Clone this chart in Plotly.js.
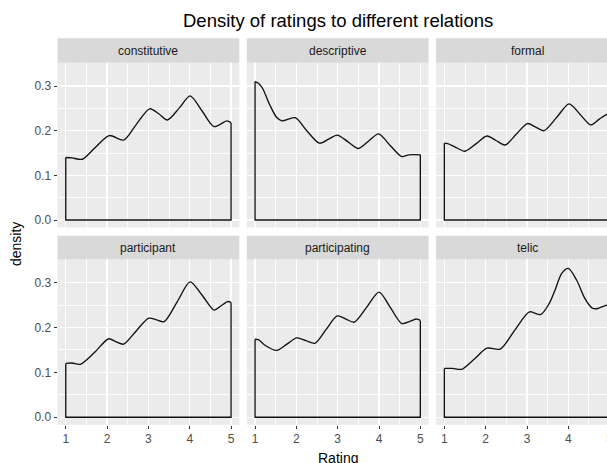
<!DOCTYPE html>
<html>
<head>
<meta charset="utf-8">
<script src="https://cdn.plot.ly/plotly-3.0.1.min.js"></script>
<style>
html,body{margin:0;padding:0;overflow:hidden;background:#fff;}
#chart{width:625px;height:463px;}
</style>
</head>
<body>
<div id="chart"></div>
<script>
// ---- data ----
var relations = ["constitutive","descriptive","formal","participant","participating","telic"];

var constitutiveX = [1, 1.15, 1.4, 1.7, 2.05, 2.4, 2.7, 3.03, 3.25, 3.46, 3.75, 4.01, 4.3, 4.59, 4.9, 5];
var constitutiveY = [0.140, 0.139, 0.136, 0.161, 0.189, 0.179, 0.213, 0.249, 0.238, 0.224, 0.251, 0.278, 0.244, 0.209, 0.222, 0.218];

var descriptiveX = [1, 1.08, 1.18, 1.36, 1.52, 1.65, 1.97, 2.25, 2.56, 2.78, 2.99, 3.25, 3.50, 3.75, 3.99, 4.27, 4.55, 4.72, 5];
var descriptiveY = [0.310, 0.306, 0.295, 0.257, 0.230, 0.222, 0.229, 0.200, 0.172, 0.181, 0.190, 0.175, 0.160, 0.177, 0.193, 0.167, 0.142, 0.146, 0.146];

var formalX = [1, 1.08, 1.25, 1.50, 1.77, 2.03, 2.25, 2.47, 2.74, 3.01, 3.21, 3.41, 3.72, 4.02, 4.28, 4.54, 4.75, 4.94, 5];
var formalY = [0.172, 0.171, 0.164, 0.154, 0.171, 0.188, 0.178, 0.168, 0.192, 0.216, 0.208, 0.200, 0.230, 0.260, 0.237, 0.213, 0.226, 0.237, 0.238];

var participantX = [1, 1.15, 1.35, 1.7, 2.04, 2.22, 2.40, 2.7, 3.01, 3.2, 3.38, 3.7, 4.01, 4.3, 4.59, 4.75, 4.92, 5];
var participantY = [0.120, 0.121, 0.118, 0.145, 0.175, 0.168, 0.163, 0.192, 0.221, 0.217, 0.213, 0.258, 0.302, 0.272, 0.239, 0.248, 0.258, 0.256];

var participatingX = [1, 1.08, 1.25, 1.52, 1.77, 2.01, 2.23, 2.45, 2.72, 2.99, 3.2, 3.40, 3.7, 4.00, 4.28, 4.55, 4.75, 4.91, 5];
var participatingY = [0.174, 0.173, 0.160, 0.149, 0.163, 0.177, 0.171, 0.165, 0.196, 0.226, 0.219, 0.212, 0.245, 0.279, 0.244, 0.209, 0.214, 0.219, 0.216];

var telicX = [1, 1.2, 1.42, 1.74, 2.03, 2.35, 2.71, 3.06, 3.33, 3.54, 3.68, 3.84, 4.0, 4.2, 4.4, 4.57, 4.69, 4.93, 5];
var telicY = [0.109, 0.109, 0.107, 0.131, 0.154, 0.152, 0.195, 0.235, 0.229, 0.254, 0.284, 0.321, 0.332, 0.306, 0.265, 0.244, 0.242, 0.250, 0.250];

var xTickVals = [1, 2, 3, 4, 5];
var xTickText = ["1", "2", "3", "4", "5"];
var yTickVals = [0.0, 0.1, 0.2, 0.3];
var yTickText = ["0.0", "0.1", "0.2", "0.3"];

var seriesX = [constitutiveX, descriptiveX, formalX, participantX, participatingX, telicX];
var seriesY = [constitutiveY, descriptiveY, formalY, participantY, participatingY, telicY];

// ---- layout geometry (pixels in a 625 x 463 figure) ----
var W = 625, H = 463;
var colPx = [[57.5, 239.3], [246.8, 428.6], [436.1, 617.9]];
var rowPx = [[62.8, 227.5], [259.4, 424.8]];
var stripPx = [[38.3, 62.8], [235.7, 259.4]];
function fx(p){ return p / W; }
function fy(p){ return 1 - p / H; }

var FONT = "Liberation Sans, Arial, Helvetica, sans-serif";
var traces = [];
var layout = {
  width: W, height: H,
  margin: {l: 0, r: 0, t: 0, b: 0},
  paper_bgcolor: "#FFFFFF",
  plot_bgcolor: "#EBEBEB",
  showlegend: false,
  font: {family: FONT, color: "#4D4D4D"},
  shapes: [],
  annotations: []
};

for (var i = 0; i < 6; i++) {
  var r = Math.floor(i / 3), c = i % 3;
  var sfx = i === 0 ? "" : String(i + 1);
  var xs = seriesX[i], ys = seriesY[i];
  // density curve
  traces.push({
    x: xs, y: ys, type: "scatter", mode: "lines",
    line: {color: "#111111", width: 1.35, shape: "spline", smoothing: 0.8},
    xaxis: "x" + sfx, yaxis: "y" + sfx, hoverinfo: "skip"
  });
  // outline of the density polygon (vertical sides and baseline)
  traces.push({
    x: [xs[0], xs[0], xs[xs.length - 1], xs[xs.length - 1]],
    y: [ys[0], 0, 0, ys[ys.length - 1]],
    type: "scatter", mode: "lines",
    line: {color: "#111111", width: 1.35},
    xaxis: "x" + sfx, yaxis: "y" + sfx, hoverinfo: "skip"
  });

  var showX = (r === 1);
  var showY = (c === 0);
  layout["xaxis" + sfx] = {
    domain: [fx(colPx[c][0]), fx(colPx[c][1])],
    anchor: "y" + sfx,
    range: [0.8, 5.2],
    tickvals: xTickVals, ticktext: xTickText,
    showticklabels: showX,
    ticks: showX ? "outside" : "", ticklen: 3, tickwidth: 1, tickcolor: "#333333",
    tickfont: {size: 12, color: "#4D4D4D", family: FONT},
    showgrid: true, gridcolor: "#FFFFFF", gridwidth: 1.3,
    minor: {tickvals: [1.5, 2.5, 3.5, 4.5], showgrid: true, gridcolor: "#FFFFFF", gridwidth: 0.9, ticks: ""},
    zeroline: false, showline: false, fixedrange: true
  };
  layout["yaxis" + sfx] = {
    domain: [fy(rowPx[r][1]), fy(rowPx[r][0])],
    anchor: "x" + sfx,
    range: [-0.0168, 0.352],
    tickvals: yTickVals, ticktext: yTickText,
    showticklabels: showY,
    ticks: showY ? "outside" : "", ticklen: 3, tickwidth: 1, tickcolor: "#333333",
    tickfont: {size: 12, color: "#4D4D4D", family: FONT},
    showgrid: true, gridcolor: "#FFFFFF", gridwidth: 1.3,
    minor: {tickvals: [0.05, 0.15, 0.25, 0.35], showgrid: true, gridcolor: "#FFFFFF", gridwidth: 0.9, ticks: ""},
    zeroline: false, showline: false, fixedrange: true
  };
  // facet strip
  layout.shapes.push({
    type: "rect", xref: "paper", yref: "paper", layer: "below",
    x0: fx(colPx[c][0]), x1: fx(colPx[c][1]),
    y0: fy(stripPx[r][1]), y1: fy(stripPx[r][0]),
    fillcolor: "#D9D9D9", line: {width: 0}
  });
  layout.annotations.push({
    xref: "paper", yref: "paper",
    x: fx((colPx[c][0] + colPx[c][1]) / 2), y: fy((stripPx[r][0] + stripPx[r][1]) / 2),
    xanchor: "center", yanchor: "middle", showarrow: false,
    text: relations[i], font: {size: 12, color: "#1A1A1A", family: FONT}
  });
}

// titles
layout.annotations.push({
  xref: "paper", yref: "paper", x: fx((colPx[0][0] + colPx[2][1]) / 2), y: fy(20.5),
  xanchor: "center", yanchor: "middle", showarrow: false,
  text: "Density of ratings to different relations", font: {size: 18.5, color: "#000000", family: FONT}
});
layout.annotations.push({
  xref: "paper", yref: "paper", x: fx((colPx[0][0] + colPx[2][1]) / 2), y: fy(458),
  xanchor: "center", yanchor: "middle", showarrow: false,
  text: "Rating", font: {size: 14, color: "#000000", family: FONT}
});
layout.annotations.push({
  xref: "paper", yref: "paper", x: fx(16), y: fy(244),
  xanchor: "center", yanchor: "middle", showarrow: false, textangle: -90,
  text: "density", font: {size: 14, color: "#000000", family: FONT}
});

Plotly.newPlot("chart", traces, layout, {displayModeBar: false, staticPlot: true});
</script>
</body>
</html>
